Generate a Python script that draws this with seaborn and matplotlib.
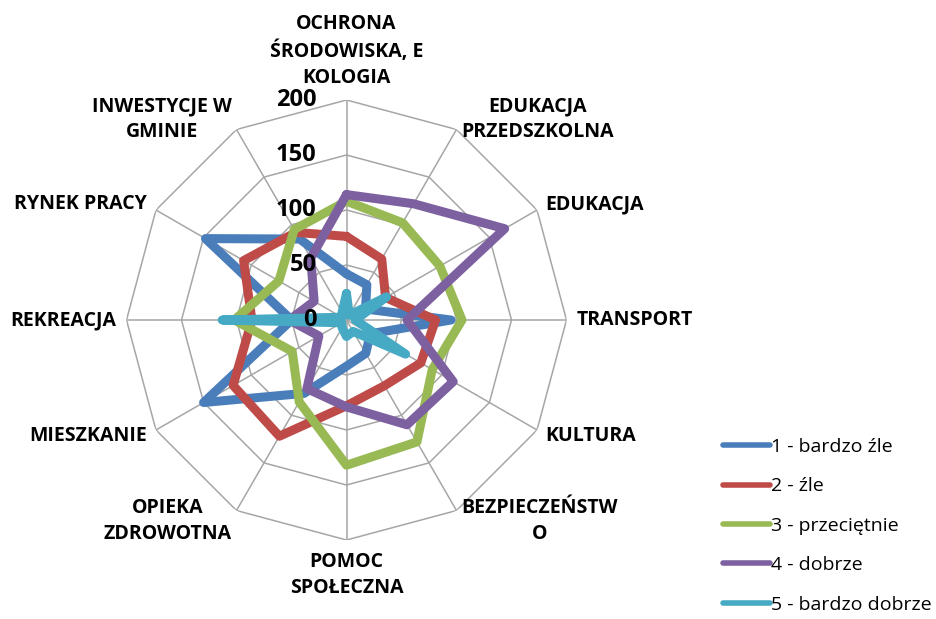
import numpy as np
import pandas as pd
import matplotlib
matplotlib.use("Agg")
import matplotlib.pyplot as plt
import matplotlib.transforms as mtransforms
import seaborn as sns

# categories clockwise from the top
categories = [
    "OCHRONA\nŚRODOWISKA, E\nKOLOGIA", "EDUKACJA\nPRZEDSZKOLNA", "EDUKACJA",
    "TRANSPORT", "KULTURA", "BEZPIECZEŃSTW\nO", "POMOC\nSPOŁECZNA",
    "OPIEKA\nZDROWOTNA", "MIESZKANIE", "REKREACJA", "RYNEK PRACY",
    "INWESTYCJE W\nGMINIE",
]

bardzo_zle = [42, 37, 20, 95, 25, 35, 42, 77, 150, 50, 148, 85]
zle = [76, 64, 41, 81, 78, 69, 78, 122, 119, 86, 108, 92]
przecietnie = [108, 102, 98, 105, 90, 128, 132, 86, 57, 102, 71, 95]
dobrze = [114, 122, 166, 55, 112, 110, 79, 72, 29, 52, 34, 65]
bardzo_dobrze = [24, 5, 42, 8, 62, 12, 15, 8, 5, 113, 5, 8]

series_names = ["1 - bardzo źle", "2 - źle", "3 - przeciętnie", "4 - dobrze", "5 - bardzo dobrze"]
colors = ["#4a7ebb", "#be4b48", "#98b954", "#7d60a0", "#46aac5"]
ring_ticks = [0, 50, 100, 150, 200]

sns.set_style("white")
plt.rcParams['font.family'] = ['Open Sans', 'DejaVu Sans']
plt.rcParams['text.color'] = 'black'

n = len(categories)
angles = np.deg2rad(np.arange(n) * 360 / n)
closed = np.append(angles, angles[0])

rows = []
for name, vals in zip(series_names, [bardzo_zle, zle, przecietnie, dobrze, bardzo_dobrze]):
    vals = list(vals) + [vals[0]]
    for a, v in zip(closed, vals):
        rows.append({"angle": a, "value": v, "series": name})
df = pd.DataFrame(rows)

fig = plt.figure(figsize=(9.36, 6.19), dpi=100)
ax = fig.add_axes([126.5 / 936, 1 - 540 / 619, 440 / 936, 440 / 619], projection="polar")
ax.set_theta_zero_location("N")
ax.set_theta_direction(-1)

# polygon grid like Excel radar
grid_col = "#a6a6a6"
for r in ring_ticks[1:]:
    ax.plot(closed, [r] * len(closed), color=grid_col, lw=1.1, zorder=1)
for a in angles:
    ax.plot([a, a], [0, ring_ticks[-1]], color=grid_col, lw=1.1, zorder=1)

sns.lineplot(data=df, x="angle", y="value", hue="series", palette=colors,
             sort=False, estimator=None, lw=6.5, ax=ax, zorder=3,
             solid_joinstyle="round", solid_capstyle="round")

ax.set_ylim(0, ring_ticks[-1])
ax.grid(False)
ax.spines["polar"].set_visible(False)
ax.set_xticks([])
ax.set_yticks([])
ax.set_xlabel("")
ax.set_ylabel("")

# radial value labels, left of the vertical axis
for r in ring_ticks:
    tr = mtransforms.offset_copy(ax.transData, fig=fig, x=-30, y=0, units="dots")
    ax.text(0, r, str(r), transform=tr, ha="right", va="center",
            fontsize=17, fontweight="bold", color="black", zorder=5)

# category labels outside the outer ring
for a, lab in zip(angles, categories):
    s, c = np.sin(a), np.cos(a)
    ha = "left" if s > 0.1 else ("right" if s < -0.1 else "center")
    if c > 0.9:
        va = "bottom"
    elif c < -0.9:
        va = "top"
    else:
        va = "center"
    tr = mtransforms.offset_copy(ax.transData, fig=fig, x=10 * s, y=12 * c, units="dots")
    ax.text(a, ring_ticks[-1], lab, transform=tr, ha=ha, va=va, multialignment="center",
            fontsize=14, fontweight="bold", linespacing=1.4, color="black")

sns.move_legend(ax, "upper left", bbox_to_anchor=(0.764, 0.305), bbox_transform=fig.transFigure,
                frameon=False, title=None, fontsize=14, handlelength=2.4,
                handletextpad=0.1, labelspacing=1.1, borderaxespad=0)
leg = ax.get_legend()
for h in leg.legend_handles:
    h.set_linewidth(4)
for t in leg.get_texts():
    t.set_color("black")

fig.savefig("out.png", dpi=100)
